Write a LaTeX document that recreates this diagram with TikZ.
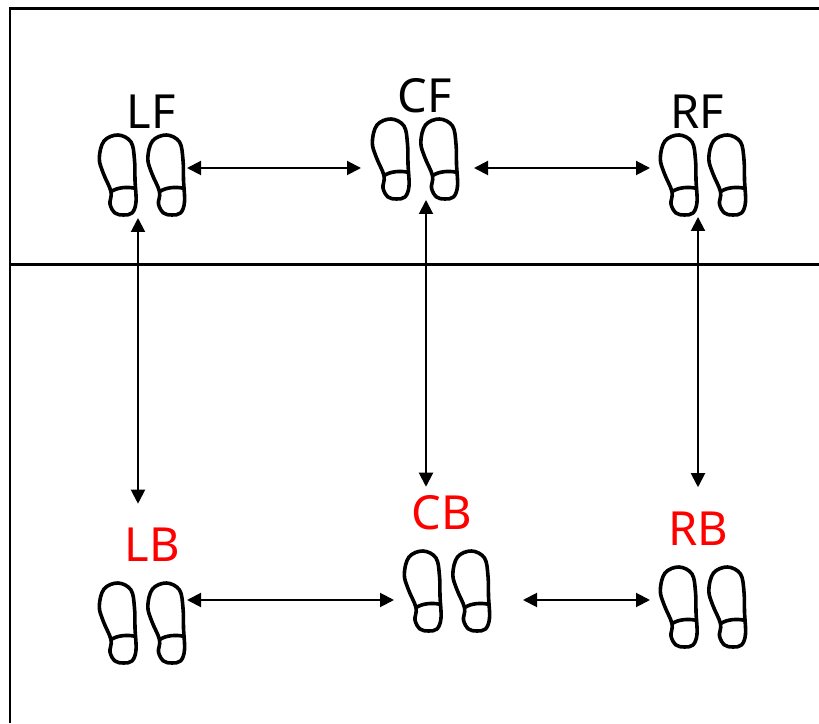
\documentclass[tikz,border=0pt]{standalone}
\usepackage{fontspec}
\setmainfont{Noto Sans}
\usetikzlibrary{arrows.meta}
\tikzset{
  soles/.pic={
    \foreach \shoeX in {0,48.5}{
      \begin{scope}[xshift=\shoeX]
      \draw[soleLine] plot[smooth cycle,tension=0.6] coordinates {(-23,40) (-37,34) (-41.7,16.7) (-37.7,1.7) (-30,-16.7) (-31,-29) (-26,-38) (-17.7,-40) (-9,-38) (-5,-27) (-6,-5) (-6.5,15) (-10,33)};
      \draw[soleLine] (-30,-16.7) .. controls (-24,-12.5) and (-14,-11.5) .. (-6,-13.3);
      \end{scope}
    }
  },
  soleLine/.style={line width=3.6pt,line join=round,line cap=round},
  soleBox/.style={minimum width=86pt,minimum height=82pt,inner sep=0pt,outer sep=0pt},
  posLabel/.style={inner sep=0pt,outer sep=0pt,font=\fontsize{47}{47}\selectfont},
  linkArrow/.style={line width=2pt,{Triangle[length=14pt,width=14pt]}-{Triangle[length=14pt,width=14pt]}},
  frameLine/.style={line width=2.6pt}
}
\begin{document}
\begin{tikzpicture}[x=1pt,y=1pt]
\definecolor{backColor}{RGB}{255,255,255}
\definecolor{labelRed}{RGB}{255,0,0}
\path[use as bounding box,fill=backColor] (0,0) rectangle (819,723);

% frame
\coordinate (frameBL) at (10,0);
\coordinate (frameTL) at (10,714.7);
\coordinate (frameTR) at (819,714.7);
\coordinate (splitL) at (10,458.5);
\coordinate (splitR) at (819,458.5);
\draw[frameLine] (frameBL) -- (frameTL) -- (frameTR);
\draw[frameLine] (splitL) -- (splitR);

% feet
\node[soleBox] (LFfeet) at (141,548) {};
\node[soleBox] (CFfeet) at (414,564) {};
\node[soleBox] (RFfeet) at (702,548) {};
\node[soleBox] (LBfeet) at (141,100) {};
\node[soleBox] (CBfeet) at (446,132) {};
\node[soleBox] (RBfeet) at (702,116) {};
\pic at (LFfeet) {soles};
\pic at (CFfeet) {soles};
\pic at (RFfeet) {soles};
\pic at (LBfeet) {soles};
\pic at (CBfeet) {soles};
\pic at (RBfeet) {soles};

% labels
\node[posLabel] (LFlabel) at (151,611) {LF};
\node[posLabel] (CFlabel) at (425,627) {CF};
\node[posLabel] (RFlabel) at (697,611) {RF};
\node[posLabel,text=labelRed] (LBlabel) at (152,178) {LB};
\node[posLabel,text=labelRed] (CBlabel) at (442,210) {CB};
\node[posLabel,text=labelRed] (RBlabel) at (698,194) {RB};

% arrows
\draw[linkArrow,shorten <=3pt,shorten >=10pt] ([yshift=7pt]LFfeet.east) -- ([yshift=-9pt]CFfeet.west);
\draw[linkArrow,shorten <=17pt,shorten >=9pt] ([yshift=-9pt]CFfeet.east) -- ([yshift=7pt]RFfeet.west);
\draw[linkArrow,shorten <=3pt,shorten >=9pt] ([yshift=23pt]LBfeet.east) -- ([yshift=-9pt]CBfeet.west);
\draw[linkArrow,shorten <=34pt,shorten >=9pt] ([yshift=-9pt]CBfeet.east) -- ([yshift=7pt]RBfeet.west);
\draw[linkArrow,shorten <=2pt,shorten >=24.5pt] ([xshift=-3pt]LFfeet.south) -- ([xshift=-14pt]LBlabel.north);
\draw[linkArrow,shorten >=9pt] ([xshift=12pt]CFfeet.south) -- ([xshift=-16pt]CBlabel.north);
\draw[linkArrow,shorten <=1pt,shorten >=25pt] ([xshift=-4pt]RFfeet.south) -- (RBlabel.north);
\end{tikzpicture}
\end{document}
